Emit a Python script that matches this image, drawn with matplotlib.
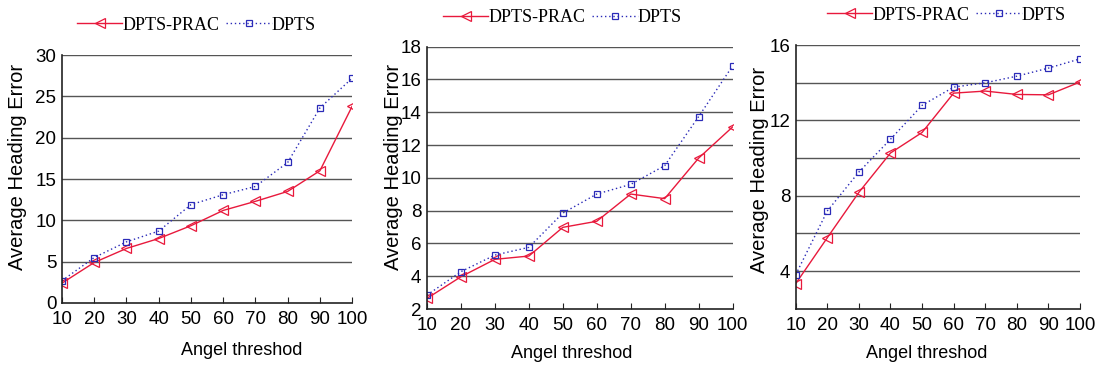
import matplotlib
matplotlib.use("Agg")
import matplotlib.pyplot as plt
from matplotlib.ticker import FixedLocator

plt.rcParams['font.family'] = ['Liberation Sans', 'DejaVu Sans']

thresholds = [10, 20, 30, 40, 50, 60, 70, 80, 90, 100]

prac_1 = [2.4, 4.9, 6.6, 7.8, 9.35, 11.2, 12.3, 13.5, 16.0, 23.8]
dpts_1 = [2.7, 5.5, 7.4, 8.7, 11.9, 13.1, 14.1, 17.0, 23.6, 27.2]

prac_2 = [2.65, 3.97, 5.03, 5.23, 6.98, 7.35, 9.01, 8.73, 11.2, 13.1]
dpts_2 = [2.85, 4.28, 5.29, 5.76, 7.85, 9.01, 9.60, 10.74, 13.73, 16.82]

prac_3 = [3.33, 5.77, 8.18, 10.27, 11.36, 13.45, 13.56, 13.38, 13.36, 14.04]
dpts_3 = [3.81, 7.19, 9.26, 11.0, 12.8, 13.77, 14.0, 14.35, 14.78, 15.27]

series_names = ['DPTS-PRAC', 'DPTS']
x_label = 'Angel threshod'
y_label = 'Average Heading Error'

RED = '#e8193c'
BLUE = '#2b2bb8'
GRID = '#555555'

W, H = 1095, 367
fig = plt.figure(figsize=(W / 100, H / 100), dpi=100)

panels = [
    dict(rect=[0.0566, 0.1744, 0.265, 0.6756], prac=prac_1, dpts=dpts_1,
         ylim=(0, 30), grid=list(range(0, 31, 5)), labels=list(range(0, 31, 5)),
         leg=(77, 25), xl=(0.621, -0.157), yl=(-0.12, 0.55)),
    dict(rect=[0.390, 0.158, 0.279, 0.715], prac=prac_2, dpts=dpts_2,
         ylim=(2, 18), grid=list(range(2, 19, 2)), labels=list(range(2, 19, 2)),
         leg=(443, 18), xl=(0.474, -0.137), yl=(-0.08, 0.541)),
    dict(rect=[0.7267, 0.159, 0.2596, 0.718], prac=prac_3, dpts=dpts_3,
         ylim=(2, 16), grid=list(range(2, 17, 2)), labels=[4, 8, 12, 16],
         leg=(827, 15), xl=(0.462, -0.138), yl=(-0.095, 0.528)),
]

for p in panels:
    ax = fig.add_axes(p['rect'])
    l1, = ax.plot(thresholds, p['prac'], color=RED, lw=1.0, marker='<', ms=6.5,
                  mfc='none', mec=RED, mew=0.9, label=series_names[0])
    l2, = ax.plot(thresholds, p['dpts'], color=BLUE, lw=1.0, ls=(0, (1, 2)), marker='s', ms=4.5,
                  mfc='none', mec=BLUE, mew=0.9, label=series_names[1])
    ax.set_xlim(10, 100)
    ax.set_ylim(*p['ylim'])
    ax.xaxis.set_major_locator(FixedLocator(thresholds))
    ax.yaxis.set_major_locator(FixedLocator(p['labels']))
    for g in p['grid']:
        if g != p['ylim'][0]:
            ax.axhline(g, color=GRID, lw=1.0, zorder=0)
    for s in ['top', 'right']:
        ax.spines[s].set_visible(False)
    for s in ['left', 'bottom']:
        ax.spines[s].set_color('#222222')
        ax.spines[s].set_linewidth(1.2)
    ax.tick_params(axis='x', direction='in', length=4, labelsize=13.5, pad=6, color='#222222')
    ax.tick_params(axis='y', which='both', length=0, labelsize=13.5, pad=4)
    ax.set_xlabel(x_label, fontsize=13)
    ax.set_ylabel(y_label, fontsize=14.5)
    ax.xaxis.set_label_coords(*p['xl'])
    ax.yaxis.set_label_coords(*p['yl'])
    lx, ly = p['leg']
    fig.legend(handles=[l1, l2], loc='center left', bbox_to_anchor=(lx / W, 1 - ly / H),
               ncol=2, frameon=False, prop={'family': 'Liberation Serif', 'size': 13},
               handlelength=2.5, handletextpad=0.0, columnspacing=0.4,
               borderpad=0, borderaxespad=0)

fig.savefig('out.png', dpi=100)
